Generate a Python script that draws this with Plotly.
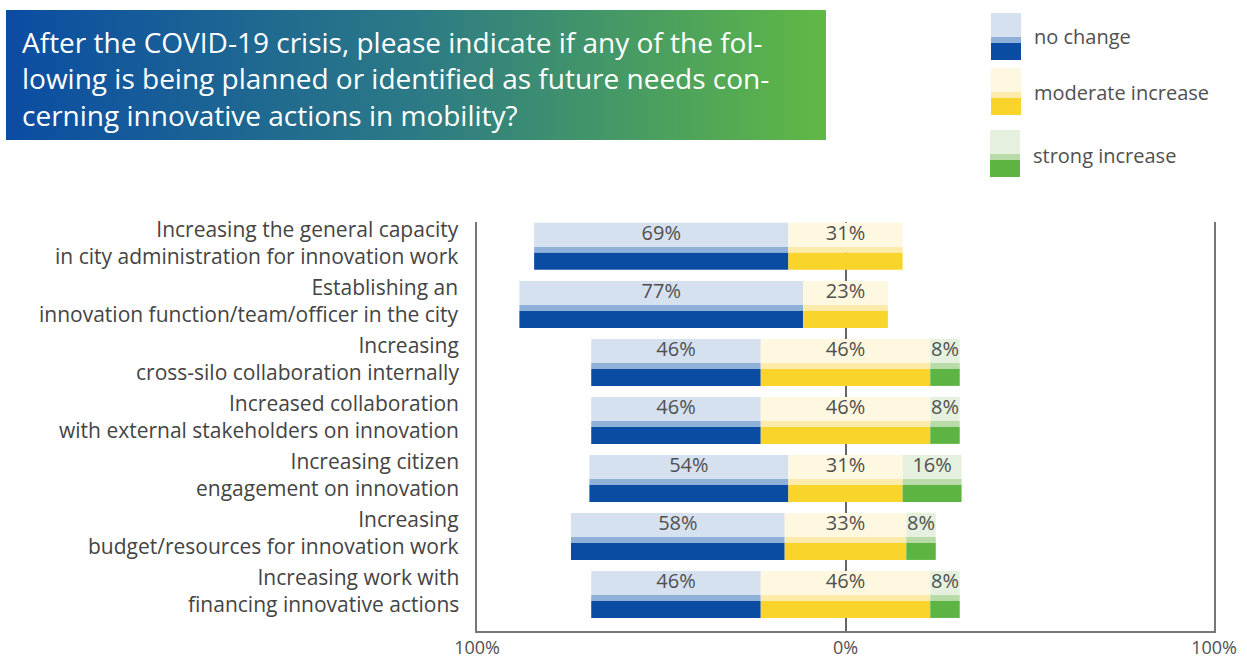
import base64
import plotly.graph_objects as go

# survey answers
categories = [
    ["Increasing the general capacity", "in city administration for innovation work"],
    ["Establishing an", "innovation function/team/officer in the city"],
    ["Increasing", "cross-silo collaboration internally"],
    ["Increased collaboration", "with external stakeholders on innovation"],
    ["Increasing citizen", "engagement on innovation"],
    ["Increasing", "budget/resources for innovation work"],
    ["Increasing work with", "financing innovative actions"],
]
no_change = [69, 77, 46, 46, 54, 58, 46]
moderate = [31, 23, 46, 46, 31, 33, 46]
strong = [0, 0, 8, 8, 16, 8, 8]

series_names = ["no change", "moderate increase", "strong increase"]
tick_vals = [-100, 0, 100]
tick_text = ["100%", "0%", "100%"]

title_lines = [
    "After the COVID-19 crisis, please indicate if any of the fol-",
    "lowing is being planned or identified as future needs con-",
    "cerning innovative actions in mobility?",
]

# light / mid / dark shade per series
shades = {
    "no change": ["#d6e1f0", "#8fb0d9", "#0b4ca3"],
    "moderate increase": ["#fdf8df", "#fcebaa", "#f9d42a"],
    "strong increase": ["#e5f1de", "#b8dba8", "#5db443"],
}

W, H = 1247, 659
L, R, T, B = 477, 1214, 222, 631
FONT = "Open Sans"


def px_x(px):
    return (px - L) / (R - L)


def px_y(py):
    return (B - py) / (B - T)


rows = list(range(len(categories)))

# segment starts: moderate increase is centred on 0
starts = {
    "no change": [-(m / 2 + n) for n, m in zip(no_change, moderate)],
    "moderate increase": [-m / 2 for m in moderate],
    "strong increase": [m / 2 for m in moderate],
}
values = {"no change": no_change, "moderate increase": moderate, "strong increase": strong}

# bar bands in category units: light top, thin mid stripe, dark bottom
bands = [(-0.405, 0.414), (0.009, 0.103), (0.112, 0.293)]

fig = go.Figure()
for name in series_names:
    for (off, wid), col in zip(bands, shades[name]):
        fig.add_trace(go.Bar(
            y=rows, x=values[name], base=starts[name], orientation="h",
            offset=off, width=wid, marker=dict(color=col, line_width=0),
            showlegend=False, hoverinfo="skip",
        ))

# percentage labels in the light band
for name in series_names:
    xs, ys, txt = [], [], []
    for i in rows:
        v = values[name][i]
        if v <= 0:
            continue
        xs.append(starts[name][i] + v / 2)
        ys.append(i - 0.2)
        txt.append(f"{v}%")
    fig.add_trace(go.Scatter(
        x=xs, y=ys, text=txt, mode="text", showlegend=False, hoverinfo="skip",
        textfont=dict(family=FONT, size=20, color="#505050"),
    ))

annotations = []
for i, lines in enumerate(categories):
    annotations.append(dict(
        x=0, xref="paper", y=i, yref="y", text="<br>".join(lines), showarrow=False,
        xanchor="right", yanchor="middle", align="right", xshift=-16, yshift=4,
        font=dict(family=FONT, size=21, color="#444444"),
    ))

# title box text
annotations.append(dict(
    x=px_x(20), y=px_y(21), xref="paper", yref="paper", xanchor="left",
    yanchor="top", align="left", showarrow=False, text="<br>".join(title_lines),
    font=dict(family=FONT, size=28, color="white"),
))

svg = (
    "<svg xmlns='http://www.w3.org/2000/svg' width='820' height='130' "
    "viewBox='0 0 820 130' preserveAspectRatio='none'>"
    "<defs><linearGradient id='g' x1='0' x2='1' y1='0' y2='0'>"
    "<stop offset='0' stop-color='#0b4ca3'/>"
    "<stop offset='0.5' stop-color='#2c7a86'/>"
    "<stop offset='1' stop-color='#60b944'/>"
    "</linearGradient></defs>"
    "<rect width='820' height='130' fill='url(#g)'/></svg>"
)
src = "data:image/svg+xml;base64," + base64.b64encode(svg.encode()).decode()

# legend swatches
shapes = []
legend_pos = [(991, 13, 36), (991, 68, 92), (990, 130, 155)]
for name, (x0, y0, ty) in zip(series_names, legend_pos):
    light, mid, dark = shades[name]
    for ya, yb, col in [(y0, y0 + 24, light), (y0 + 24, y0 + 30, mid), (y0 + 30, y0 + 47, dark)]:
        shapes.append(dict(
            type="rect", xref="paper", yref="paper", x0=px_x(x0), x1=px_x(x0 + 30),
            y0=px_y(yb), y1=px_y(ya), fillcolor=col, line_width=0,
        ))
    annotations.append(dict(
        x=px_x(x0 + 41), y=px_y(ty), xref="paper", yref="paper", xanchor="left",
        yanchor="middle", showarrow=False, text=name,
        font=dict(family=FONT, size=20, color="#505050"),
    ))

fig.update_layout(
    width=W, height=H,
    margin=dict(l=L, r=W - R, t=T, b=H - B, autoexpand=False),
    paper_bgcolor="white", plot_bgcolor="white",
    barmode="overlay",
    annotations=annotations,
    shapes=shapes,
    images=[dict(
        source=src, xref="paper", yref="paper", x=px_x(6), y=px_y(10),
        sizex=(826 - 6) / (R - L), sizey=(140 - 10) / (B - T),
        xanchor="left", yanchor="top", sizing="stretch", layer="below",
    )],
    xaxis=dict(
        range=[-100, 100], tickvals=tick_vals, ticktext=tick_text,
        showgrid=False, zeroline=True, zerolinecolor="#666666", zerolinewidth=1.5,
        showline=True, linecolor="#777777", linewidth=1.5, ticks="",
        tickfont=dict(family=FONT, size=18, color="#505050"),
        automargin=False, fixedrange=True,
    ),
    yaxis=dict(
        range=[6.63, -0.42], showticklabels=False, showgrid=False, zeroline=False,
        showline=True, mirror=True, linecolor="#777777", linewidth=1.5, ticks="",
        automargin=False, fixedrange=True,
    ),
    showlegend=False,
)

fig.write_html("out.html", config={"displayModeBar": False},
               post_script="document.body.style.margin='0';")
